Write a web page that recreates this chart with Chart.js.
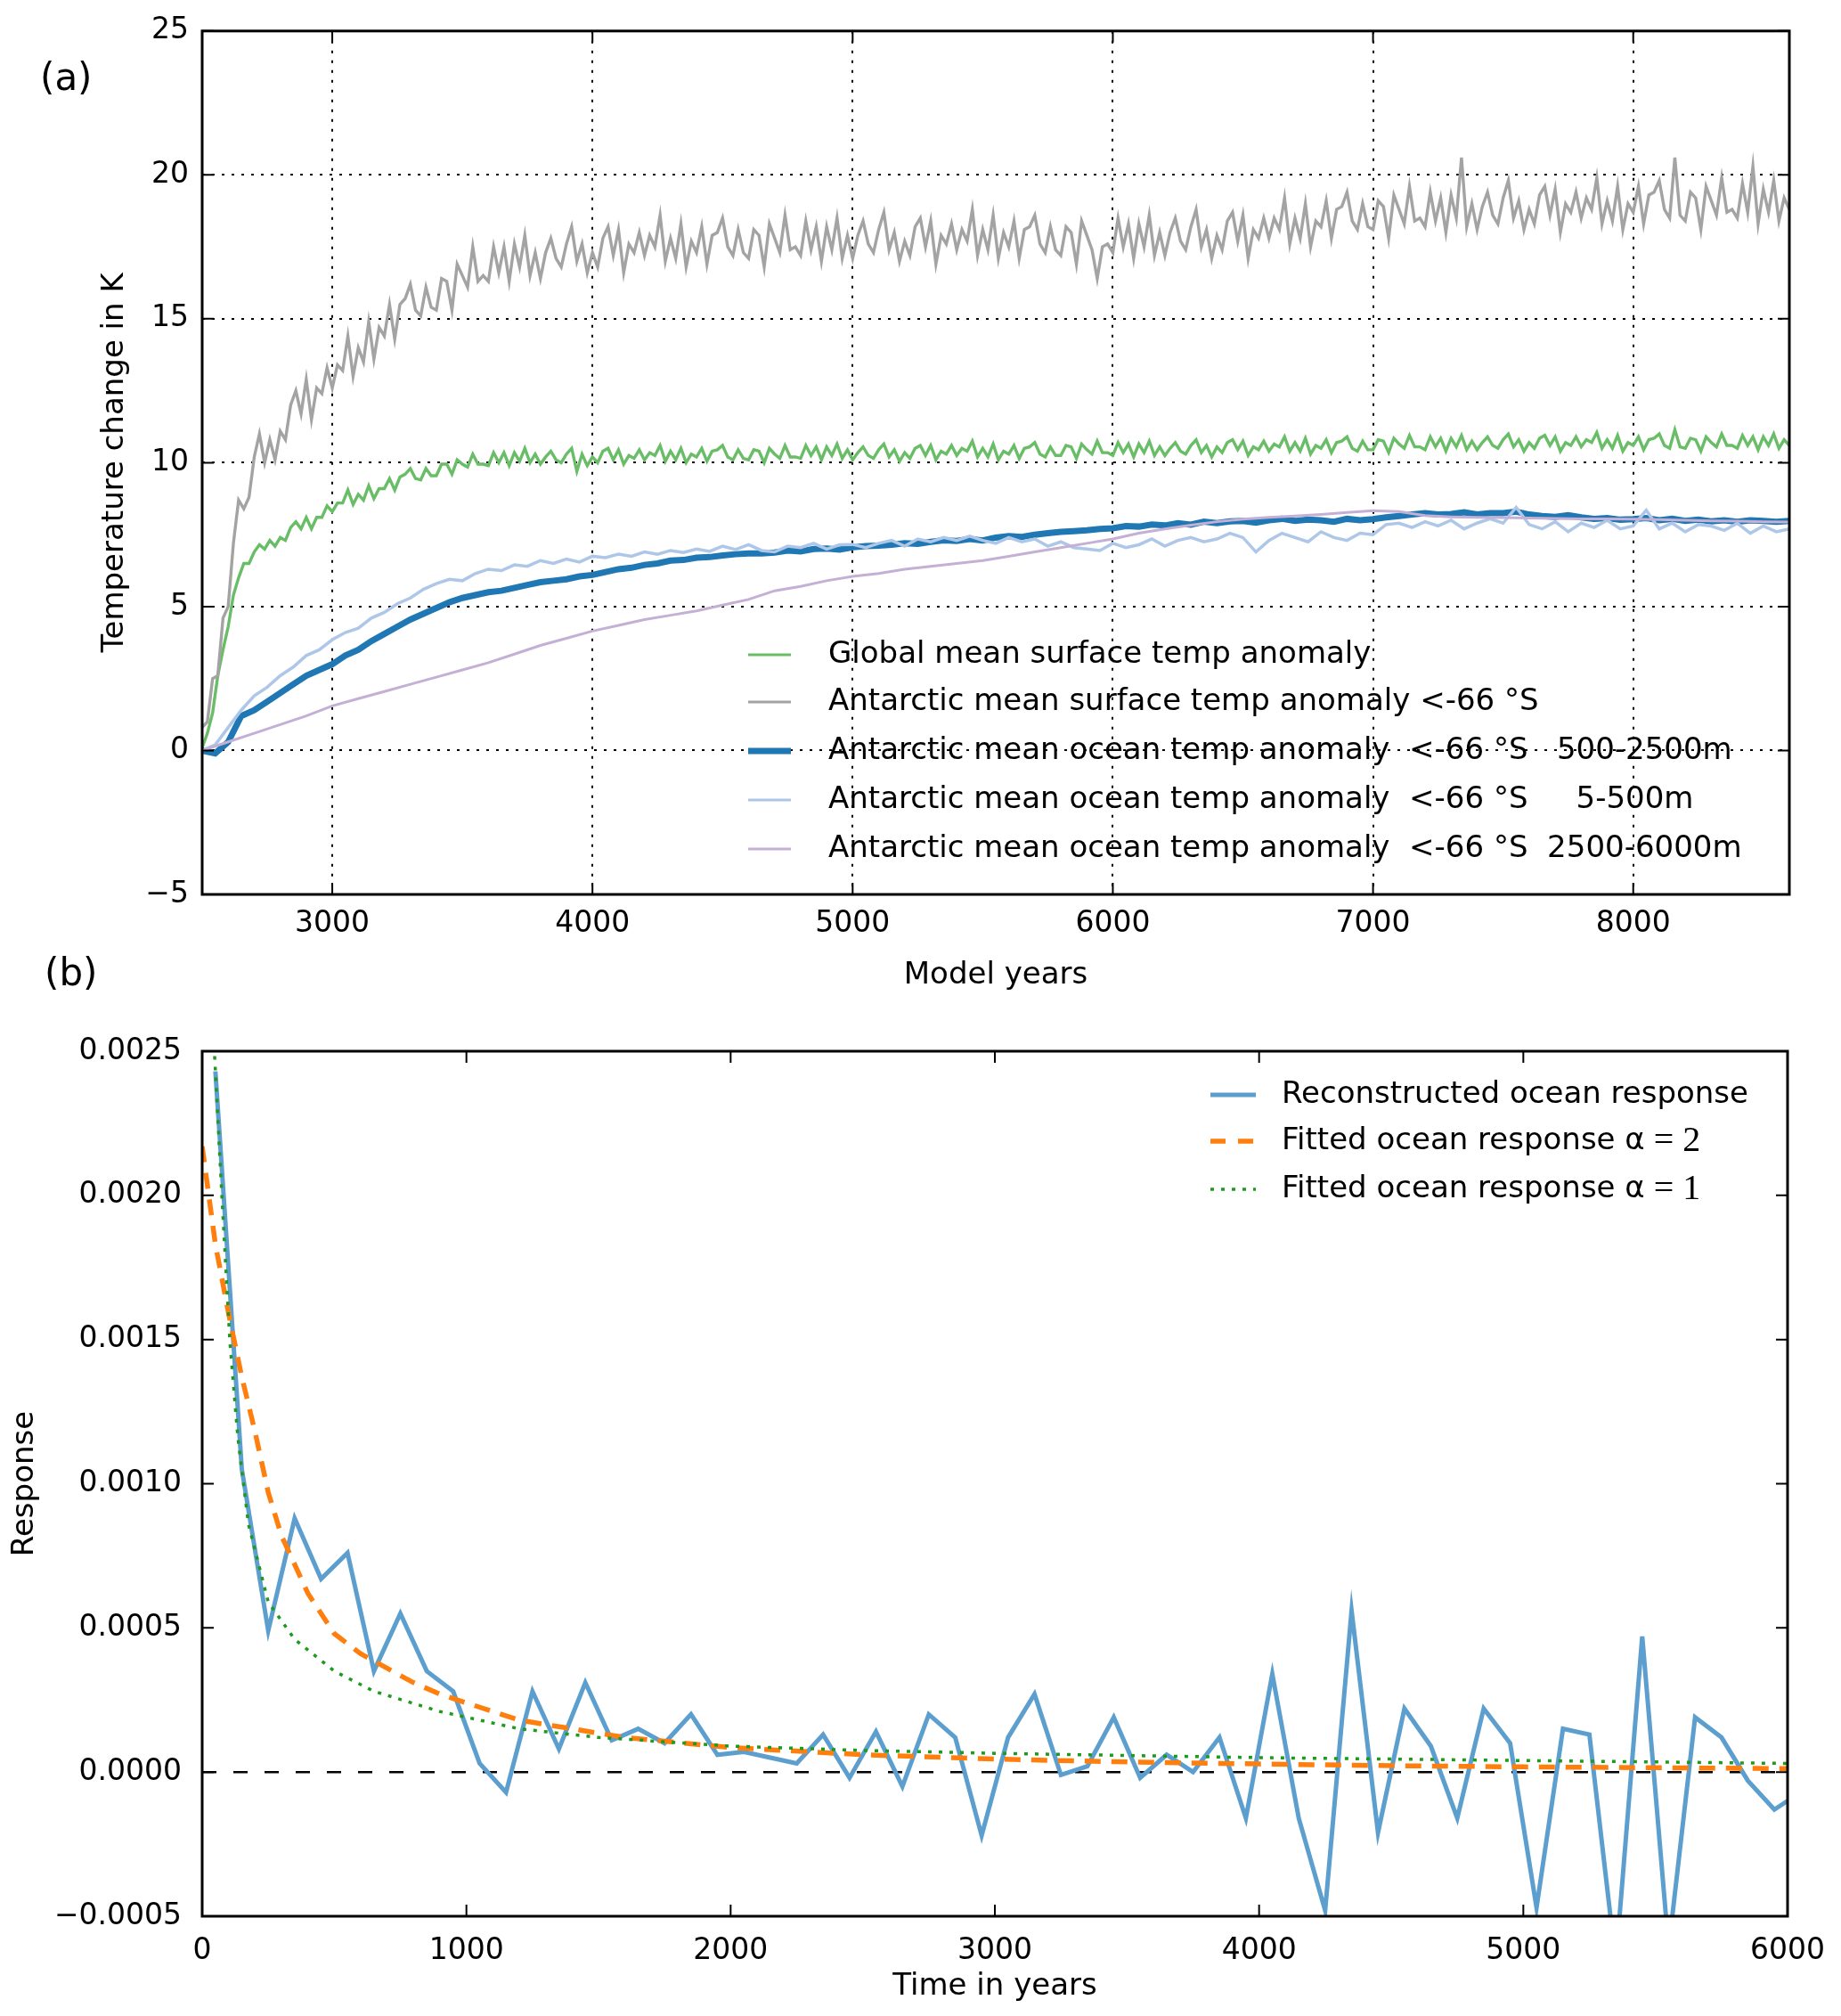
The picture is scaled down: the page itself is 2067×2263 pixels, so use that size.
<!DOCTYPE html>
<html>
<head>
<meta charset="utf-8">
<script src="https://cdn.jsdelivr.net/npm/chart.js@4.4.0/dist/chart.umd.min.js"></script>
<style>
  html, body { margin: 0; padding: 0; background: #fff; }
  #wrap { position: relative; width: 2067px; height: 2263px; background: #fff; }
  canvas { position: absolute; left: 0; }
  .panel { position: absolute; font-family: "DejaVu Sans"; font-size: 42px; line-height: 1; color: #000; }
</style>
</head>
<body>
<div id="wrap">
  <canvas id="chartA" width="2067" height="1140" style="top:0px"></canvas>
  <canvas id="chartB" width="2067" height="1123" style="top:1140px"></canvas>
  <div class="panel" style="left:45px; top:66px">(a)</div>
  <div class="panel" style="left:50px; top:1071px">(b)</div>
</div>
<script>
// ---------- panel (a): temperature anomalies, model years ----------
const xTicksA = [3000, 4000, 5000, 6000, 7000, 8000];
const yTicksA = [-5, 0, 5, 10, 15, 20, 25];

// every 20 years from 2500 (one row = 100 years)
const globalMean = [
  0.1, 0.6, 1.3, 2.6, 3.5,
  4.3, 5.4, 6.0, 6.5, 6.5,
  6.9, 7.15, 7.0, 7.3, 7.1,
  7.4, 7.3, 7.75, 7.95, 7.7,
  8.1, 7.7, 8.1, 8.1, 8.5,
  8.3, 8.6, 8.6, 9.05, 8.55,
  8.9, 8.7, 9.2, 8.75, 9.1,
  9.1, 9.45, 9.05, 9.5, 9.6,
  9.8, 9.45, 9.4, 9.8, 9.55,
  9.55, 9.95, 9.95, 9.6, 10.1,
  9.95, 9.85, 10.3, 9.95, 9.95,
  9.9, 10.35, 10.0, 10.35, 9.9,
  10.35, 10.05, 10.5, 10.0, 10.3,
  9.95, 10.2, 10.4, 10.1, 10.0,
  10.3, 10.5, 9.7, 10.3, 9.9,
  10.2, 10.0, 10.4, 10.5, 10.1,
  10.45, 9.95, 10.25, 10.15, 10.45,
  10.1, 10.35, 10.25, 10.6, 10.05,
  10.4, 10.1, 10.5, 10.0, 10.3,
  10.2, 10.5, 10.05, 10.4, 10.45,
  10.6, 10.2, 10.1, 10.45, 10.15,
  10.1, 10.45, 10.4, 10.0, 10.5,
  10.3, 10.15, 10.6, 10.2, 10.2,
  10.15, 10.6, 10.25, 10.55, 10.1,
  10.55, 10.25, 10.65, 10.15, 10.45,
  10.1, 10.35, 10.55, 10.25, 10.15,
  10.45, 10.65, 10.2, 10.45, 10.05,
  10.35, 10.15, 10.5, 10.6, 10.25,
  10.6, 10.1, 10.4, 10.3, 10.6,
  10.25, 10.5, 10.4, 10.75, 10.2,
  10.5, 10.2, 10.65, 10.1, 10.4,
  10.3, 10.6, 10.15, 10.5, 10.55,
  10.7, 10.3, 10.2, 10.55, 10.25,
  10.25, 10.6, 10.55, 10.15, 10.65,
  10.45, 10.3, 10.75, 10.35, 10.35,
  10.25, 10.7, 10.35, 10.65, 10.2,
  10.65, 10.35, 10.75, 10.25, 10.55,
  10.25, 10.5, 10.7, 10.4, 10.3,
  10.6, 10.8, 10.35, 10.6, 10.2,
  10.55, 10.35, 10.7, 10.8, 10.45,
  10.75, 10.25, 10.55, 10.45, 10.75,
  10.4, 10.65, 10.55, 10.9, 10.4,
  10.7, 10.4, 10.85, 10.3, 10.6,
  10.5, 10.8, 10.35, 10.7, 10.75,
  10.9, 10.5, 10.4, 10.75, 10.45,
  10.45, 10.8, 10.75, 10.35, 10.85,
  10.65, 10.5, 10.95, 10.55, 10.55,
  10.45, 10.9, 10.55, 10.85, 10.4,
  10.85, 10.55, 10.95, 10.45, 10.75,
  10.45, 10.7, 10.9, 10.6, 10.5,
  10.8, 11.0, 10.55, 10.8, 10.4,
  10.7, 10.5, 10.85, 10.95, 10.6,
  10.9, 10.4, 10.7, 10.6, 10.9,
  10.55, 10.8, 10.7, 11.05, 10.5,
  10.8, 10.5, 10.95, 10.4, 10.7,
  10.6, 10.9, 10.45, 10.8, 10.85,
  11.0, 10.6, 10.5, 11.15, 10.55,
  10.5, 10.85, 10.8, 10.4, 10.9,
  10.7, 10.55, 11.0, 10.6, 10.6,
  10.5, 10.95, 10.6, 10.9, 10.45,
  10.9, 10.6, 11.0, 10.5, 10.8,
  10.6
];

// every 20 years from 2500 (one row = 100 years)
const antSurface = [
  0.8, 1.0, 2.5, 2.6, 4.6,
  5.0, 7.2, 8.7, 8.4, 8.8,
  10.2, 11.0, 10.0, 10.8, 10.1,
  11.1, 10.8, 12.0, 12.5, 11.7,
  12.9, 11.5, 12.6, 12.4, 13.3,
  12.6, 13.4, 13.2, 14.4, 13.0,
  14.0, 13.5, 14.9, 13.6, 14.7,
  14.4, 15.5, 14.3, 15.5, 15.7,
  16.2, 15.3, 15.1, 16.1, 15.4,
  15.3, 16.4, 16.3, 15.3, 16.9,
  16.5, 16.1, 17.5, 16.3, 16.5,
  16.3, 17.5, 16.6, 17.5, 16.3,
  17.6, 16.8, 17.9, 16.5, 17.3,
  16.4, 17.3, 17.8, 17.1, 16.8,
  17.6, 18.2, 17.0, 17.6, 16.6,
  17.3, 16.8, 17.8, 18.2, 17.2,
  18.1, 16.6, 17.6, 17.3, 18.0,
  17.2, 17.9, 17.5, 18.6, 17.0,
  17.8, 17.1, 18.3, 16.8, 17.7,
  17.3, 18.2, 16.9, 17.9, 18.0,
  18.5, 17.5, 17.2, 18.1, 17.3,
  17.1, 18.1, 17.9, 16.8, 18.3,
  17.8, 17.3, 18.6, 17.4, 17.5,
  17.2, 18.4, 17.4, 18.2, 17.0,
  18.2, 17.4, 18.5, 17.1, 17.9,
  17.1, 17.9, 18.4, 17.6, 17.3,
  18.1, 18.7, 17.4, 18.0, 17.0,
  17.7, 17.2, 18.2, 18.5, 17.5,
  18.4, 16.9, 17.9, 17.6, 18.3,
  17.4, 18.1, 17.7, 18.8, 17.2,
  18.1, 17.4, 18.6, 17.1, 18.0,
  17.5, 18.4, 17.1, 18.1, 18.2,
  18.6, 17.6, 17.3, 18.2, 17.4,
  17.2, 18.2, 18.0, 16.9, 18.4,
  17.9, 17.4, 16.4, 17.5, 17.6,
  17.3, 18.5, 17.5, 18.3, 17.1,
  18.3, 17.5, 18.6, 17.2, 18.0,
  17.2, 18.0, 18.5, 17.7, 17.4,
  18.2, 18.8, 17.5, 18.1, 17.1,
  17.9, 17.4, 18.4, 18.7, 17.7,
  18.6, 17.1, 18.1, 17.8, 18.5,
  17.8, 18.5, 18.1, 19.2, 17.6,
  18.5, 17.8, 19.0, 17.5, 18.4,
  18.2, 19.1, 17.8, 18.8, 18.9,
  19.4, 18.4, 18.1, 19.0, 18.2,
  18.1, 19.1, 18.9, 17.8, 19.3,
  18.8, 18.3, 19.6, 18.4, 18.5,
  18.2, 19.4, 18.4, 19.2, 18.0,
  19.3, 18.5, 20.6, 18.2, 19.0,
  18.1, 18.9, 19.4, 18.6, 18.3,
  19.2, 19.8, 18.5, 19.1, 18.1,
  18.8, 18.3, 19.3, 19.6, 18.6,
  19.5, 18.0, 19.0, 18.7, 19.4,
  18.5, 19.2, 18.8, 19.9, 18.3,
  19.1, 18.4, 19.6, 18.1, 19.0,
  18.7, 19.6, 18.3, 19.3, 19.4,
  19.8, 18.8, 18.5, 20.6, 18.6,
  18.4, 19.4, 19.2, 18.1, 19.6,
  19.1, 18.6, 19.9, 18.7, 18.8,
  18.5, 19.7, 18.7, 20.3, 18.3,
  19.5, 18.7, 19.8, 18.4, 19.2,
  18.8
];

// every 50 years from 2500
const ocean500to2500 = [
  0.0, -0.1, 0.3, 1.2,  1.4, 1.7,  2.0, 2.3,  2.6, 2.8,  3.0, 3.3,  3.5, 3.8,  4.05, 4.3,
  4.55, 4.75,  4.95, 5.15,  5.3, 5.4,  5.5, 5.55,  5.65, 5.75,  5.85, 5.9,  5.95, 6.05,
  6.1, 6.2,  6.3, 6.35,  6.45, 6.5,  6.6, 6.62,  6.7, 6.72,  6.78, 6.82,  6.85, 6.85,
  6.88, 6.95,  6.92, 7.0,  7.02, 6.98,  7.06, 7.1,  7.12, 7.15,  7.2, 7.18,  7.25, 7.3,
  7.28, 7.35,  7.3, 7.4,  7.45, 7.42,  7.5, 7.55,  7.6, 7.62,  7.65, 7.7,  7.72, 7.8,
  7.78, 7.85,  7.82, 7.9,  7.85, 7.95,  7.9, 7.96,  7.98, 7.92,  8.0, 8.05,  7.98, 8.02,
  8.0, 7.95,  8.05, 8.0,  8.04, 8.1,  8.15, 8.2,  8.25, 8.2,  8.22, 8.28,  8.2, 8.25,
  8.25, 8.3,  8.2, 8.15,  8.12, 8.18,  8.1, 8.05,  8.08, 8.02,  8.04, 8.08,  8.0, 8.05,
  7.98, 8.02,  7.96, 8.0,  7.95, 8.0,  7.98, 7.95,  7.98
];

// every 50 years from 2500
const ocean5to500 = [
  0.0, 0.2, 0.8, 1.4,  1.9, 2.2,  2.6, 2.9,  3.3, 3.5,  3.85, 4.1,  4.25, 4.6,  4.8, 5.1,
  5.3, 5.6,  5.8, 5.95,  5.9, 6.15,  6.3, 6.25,  6.45, 6.4,  6.6, 6.5,  6.65, 6.55,
  6.75, 6.7,  6.82, 6.75,  6.9, 6.82,  6.95, 6.88,  7.0, 6.92,  7.1, 6.98,  7.15, 6.95,
  6.9, 7.1,  7.05, 7.2,  7.0, 7.15,  7.16, 7.05,  7.2, 7.3,  7.1, 7.35,  7.25, 7.4,
  7.3, 7.45,  7.3, 7.2,  7.4, 7.25,  7.35, 7.1,  7.25, 7.05,  7.0, 6.95,  7.2, 7.05,
  7.15, 7.35,  7.1, 7.3,  7.4, 7.25,  7.35, 7.55,  7.4, 6.9,  7.3, 7.55,  7.4, 7.25,
  7.6, 7.4,  7.3, 7.55,  7.5, 7.85,  7.9, 7.75,  7.95, 7.8,  8.0, 7.7,  7.9, 8.05,
  7.9, 8.45,  7.85, 7.7,  7.95, 7.6,  7.9, 7.75,  8.0, 7.7,  7.8, 8.35,  7.7, 7.9,
  7.6, 7.85,  7.8, 7.65,  7.9, 7.55,  7.8, 7.6,  7.7
];

// every 100 years from 2500
const ocean2500to6000 = [
  0.0, 0.3, 0.6, 0.9, 1.2, 1.55, 1.8, 2.05, 2.3, 2.55,
  2.8, 3.05, 3.35, 3.65, 3.9, 4.15, 4.35, 4.55, 4.7, 4.85,
  5.05, 5.25, 5.55, 5.7, 5.9, 6.05, 6.15, 6.3, 6.4, 6.5,
  6.6, 6.75, 6.9, 7.05, 7.2, 7.35, 7.55, 7.7, 7.83, 7.95,
  8.04, 8.1, 8.15, 8.2, 8.27, 8.33, 8.3, 8.16, 8.12, 8.1,
  8.09, 8.08, 8.06, 8.05, 8.05, 8.04, 8.02, 8.0, 7.98, 7.97,
  7.95, 7.94
];

// ---------- panel (b): ocean response ----------
const xTicksB = [0, 1000, 2000, 3000, 4000, 5000, 6000];
const yTicksB = [-0.0005, 0, 0.0005, 0.001, 0.0015, 0.002, 0.0025];

// every 100 years from 50
const reconstructed = [
  0.00243, 0.00105, 0.00049, 0.00088, 0.00067, 0.00076, 0.00035, 0.00055, 0.00035, 0.00028,
  0.00003, -0.00007, 0.00028, 0.00008, 0.00031, 0.00011, 0.00015, 0.0001, 0.0002, 0.00006,
  0.00007, 0.00005, 0.00003, 0.00013, -0.00002, 0.00014, -0.00005, 0.0002, 0.00012, -0.00022,
  0.00012, 0.00027, -0.00001, 0.00002, 0.00019, -0.00002, 0.00006, 0.0, 0.00012, -0.00016,
  0.00034, -0.00016, -0.00048, 0.00056, -0.00021, 0.00022, 0.00009, -0.00016, 0.00022, 0.0001,
  -0.00047, 0.00015, 0.00013, -0.00066, 0.00047, -0.00061, 0.00019, 0.00012, -0.00003, -0.00013,
  -0.00007
];

const fitYears2 = [0, 25, 50, 100, 150, 200, 250, 300, 400, 500, 600, 700, 800, 900, 1000,
  1200, 1400, 1600, 2000, 2500, 3000, 3500, 4000, 4500, 5000, 5500, 6000];
const fitAlpha2 = [0.00217, 0.002, 0.00183, 0.00159, 0.00137, 0.00118, 0.00097, 0.00082, 0.00062,
  0.00048, 0.00041, 0.00036, 0.00031, 0.00027, 0.00024, 0.00018, 0.00015, 0.00012, 0.000085,
  0.00006, 0.000045, 0.000035, 0.000028, 0.000022, 0.000018, 0.000015, 0.000012];

const fitYears1 = [45, 75, 105, 135, 175, 250, 350, 500, 650, 900, 1200, 1500, 2000, 2500,
  3000, 4000, 5000, 6000];
const fitAlpha1 = [0.00252, 0.00199, 0.00149, 0.00116, 0.00086, 0.00059, 0.00046, 0.00035,
  0.00028, 0.00021, 0.00015, 0.00012, 0.00009, 0.000075, 0.000065, 0.00005, 0.00004, 0.00003];

const zeroYears = [0, 6000];
const zeroLine = [0, 0];

// ---------- helpers ----------
const SANS = '"DejaVu Sans"';
const SERIF = '"Liberation Serif"';

function yearsFrom(start, step, n) {
  return Array.from({ length: n }, (_, i) => start + step * i);
}

function pts(xs, ys) {
  return ys.map((y, i) => ({ x: xs[i], y: y }));
}

function minusFmt(v, digits) {
  const s = digits === undefined ? String(Math.abs(v)) : Math.abs(v).toFixed(digits);
  return v < 0 ? '\u2212' + s : s;
}

function line(label, data, color, width, order, dash) {
  return {
    label: label, data: data, borderColor: color, borderWidth: width,
    borderDash: dash || [], pointRadius: 0, fill: false, tension: 0, order: order, clip: 1
  };
}

// frame, inward ticks and a hand-placed legend
function decor(legend) {
  return {
    id: 'decor',
    afterDatasetsDraw(chart) {
      const ctx = chart.ctx, a = chart.chartArea;
      const xs = chart.scales.x, ys = chart.scales.y;
      const L = 13;
      ctx.save();
      ctx.strokeStyle = '#000';
      ctx.lineWidth = 2;
      ctx.setLineDash([]);
      ctx.beginPath();
      xs.ticks.forEach(t => {
        const p = xs.getPixelForValue(t.value);
        ctx.moveTo(p, a.bottom); ctx.lineTo(p, a.bottom - L);
        ctx.moveTo(p, a.top); ctx.lineTo(p, a.top + L);
      });
      ys.ticks.forEach(t => {
        const p = ys.getPixelForValue(t.value);
        ctx.moveTo(a.left, p); ctx.lineTo(a.left + L, p);
        ctx.moveTo(a.right, p); ctx.lineTo(a.right - L, p);
      });
      ctx.stroke();
      ctx.lineWidth = 3;
      ctx.strokeRect(a.left, a.top, a.right - a.left, a.bottom - a.top);
      ctx.restore();
    },
    afterDraw(chart) {
      const ctx = chart.ctx;
      ctx.save();
      legend.items.forEach((it, i) => {
        const y = legend.rows[i];
        ctx.beginPath();
        ctx.strokeStyle = it.color;
        ctx.lineWidth = it.width;
        ctx.setLineDash(it.dash || []);
        ctx.moveTo(legend.x0, y);
        ctx.lineTo(legend.x1, y);
        ctx.stroke();
        ctx.setLineDash([]);
        ctx.fillStyle = '#000';
        ctx.textBaseline = 'middle';
        ctx.textAlign = 'left';
        let tx = legend.tx;
        it.parts.forEach(p => {
          ctx.font = p.font;
          ctx.fillText(p.t, tx, y);
          tx += ctx.measureText(p.t).width;
        });
      });
      ctx.restore();
    }
  };
}

const tickFont = { family: SANS, size: 33 };
const titleFont = { family: SANS, size: 34 };
const legFont = '34px ' + SANS;

// ---------- chart (a) ----------
const years20 = yearsFrom(2500, 20, globalMean.length);
const years50 = yearsFrom(2500, 50, ocean500to2500.length);
const years100 = yearsFrom(2500, 100, ocean2500to6000.length);

const C_GREEN = '#69bd67', C_GRAY = '#a3a3a3', C_DBLUE = '#1f77b4', C_LBLUE = '#aec7e8', C_PURPLE = '#c5b0d5';

new Chart(document.getElementById('chartA'), {
  type: 'line',
  data: {
    datasets: [
      line('Global mean surface temp anomaly', pts(years20, globalMean), C_GREEN, 3.4, 5),
      line('Antarctic mean surface temp anomaly', pts(years20, antSurface), C_GRAY, 3.4, 4),
      line('Antarctic ocean 500-2500m', pts(years50, ocean500to2500), C_DBLUE, 7, 3),
      line('Antarctic ocean 5-500m', pts(years50, ocean5to500), C_LBLUE, 3.5, 2),
      line('Antarctic ocean 2500-6000m', pts(years100, ocean2500to6000), C_PURPLE, 3, 1)
    ]
  },
  options: {
    responsive: false,
    devicePixelRatio: 1,
    animation: false,
    layout: { padding: { left: 0, top: 34, right: 58, bottom: 0 } },
    plugins: { legend: { display: false }, tooltip: { enabled: false } },
    scales: {
      x: {
        type: 'linear', min: 2500, max: 8600,
        afterBuildTicks: s => { s.ticks = xTicksA.map(v => ({ value: v })); },
        afterFit: s => { s.height = 136; },
        grid: { color: '#000', lineWidth: 2, drawTicks: false },
        border: { display: false, dash: [3, 8] },
        ticks: { color: '#000', font: tickFont, padding: 14, maxRotation: 0, autoSkip: false,
                 callback: v => String(v) },
        title: { display: true, text: 'Model years', color: '#000', font: titleFont,
                 padding: { top: 0, bottom: 24 } }
      },
      y: {
        type: 'linear', min: -5, max: 25,
        afterBuildTicks: s => { s.ticks = yTicksA.map(v => ({ value: v })); },
        afterFit: s => { s.width = 227; },
        grid: { color: '#000', lineWidth: 2, drawTicks: false },
        border: { display: false, dash: [3, 8] },
        ticks: { color: '#000', font: tickFont, padding: 15, autoSkip: false,
                 callback: v => minusFmt(v) },
        title: { display: true, text: 'Temperature change in K', color: '#000', font: titleFont,
                 padding: { top: 109, bottom: 0 } }
      }
    }
  },
  plugins: [decor({
    x0: 840, x1: 888, tx: 930, rows: [735, 788, 843, 898, 953],
    items: [
      { color: C_GREEN, width: 3, parts: [{ t: 'Global mean surface temp anomaly', font: legFont }] },
      { color: C_GRAY, width: 3, parts: [{ t: 'Antarctic mean surface temp anomaly <-66 \u00b0S', font: legFont }] },
      { color: C_DBLUE, width: 7, parts: [{ t: 'Antarctic mean ocean temp anomaly  <-66 \u00b0S   500-2500m', font: legFont }] },
      { color: C_LBLUE, width: 3, parts: [{ t: 'Antarctic mean ocean temp anomaly  <-66 \u00b0S     5-500m', font: legFont }] },
      { color: C_PURPLE, width: 3, parts: [{ t: 'Antarctic mean ocean temp anomaly  <-66 \u00b0S  2500-6000m', font: legFont }] }
    ]
  })]
});

// ---------- chart (b) ----------
const yearsResp = yearsFrom(50, 100, reconstructed.length);
const C_RESP = '#5c9fcf', C_FIT2 = '#ff7f0e', C_FIT1 = '#1f9a1f';

new Chart(document.getElementById('chartB'), {
  type: 'line',
  data: {
    datasets: [
      line('zero', pts(zeroYears, zeroLine), '#000', 2.5, 4, [16, 19]),
      line('Reconstructed ocean response', pts(yearsResp, reconstructed), C_RESP, 5, 3),
      line('Fitted ocean response alpha=2', pts(fitYears2, fitAlpha2), C_FIT2, 5.5, 2, [18, 12]),
      line('Fitted ocean response alpha=1', pts(fitYears1, fitAlpha1), C_FIT1, 3.5, 1, [4, 8])
    ]
  },
  options: {
    responsive: false,
    devicePixelRatio: 1,
    animation: false,
    layout: { padding: { left: 0, top: 40, right: 60, bottom: 0 } },
    plugins: { legend: { display: false }, tooltip: { enabled: false } },
    scales: {
      x: {
        type: 'linear', min: 0, max: 6000,
        afterBuildTicks: s => { s.ticks = xTicksB.map(v => ({ value: v })); },
        afterFit: s => { s.height = 112; },
        grid: { display: false },
        border: { display: false },
        ticks: { color: '#000', font: tickFont, padding: 12, maxRotation: 0, autoSkip: false,
                 callback: v => String(v) },
        title: { display: true, text: 'Time in years', color: '#000', font: titleFont,
                 padding: { top: 0, bottom: 12 } }
      },
      y: {
        type: 'linear', min: -0.0005, max: 0.0025,
        afterBuildTicks: s => { s.ticks = yTicksB.map(v => ({ value: v })); },
        afterFit: s => { s.width = 227; },
        grid: { display: false },
        border: { display: false },
        ticks: { color: '#000', font: tickFont, padding: 15, autoSkip: false,
                 callback: v => minusFmt(v, 4) },
        title: { display: true, text: 'Response', color: '#000', font: titleFont,
                 padding: { top: 8, bottom: 0 } }
      }
    }
  },
  plugins: [decor({
    x0: 1359, x1: 1410, tx: 1439, rows: [89, 141, 195],
    items: [
      { color: C_RESP, width: 5, parts: [{ t: 'Reconstructed ocean response', font: legFont }] },
      { color: C_FIT2, width: 5.5, dash: [17, 14], parts: [{ t: 'Fitted ocean response \u03b1', font: legFont }, { t: ' = 2', font: '40px ' + SERIF }] },
      { color: C_FIT1, width: 3.5, dash: [4, 8], parts: [{ t: 'Fitted ocean response \u03b1', font: legFont }, { t: ' = 1', font: '40px ' + SERIF }] }
    ]
  })]
});
</script>
</body>
</html>
